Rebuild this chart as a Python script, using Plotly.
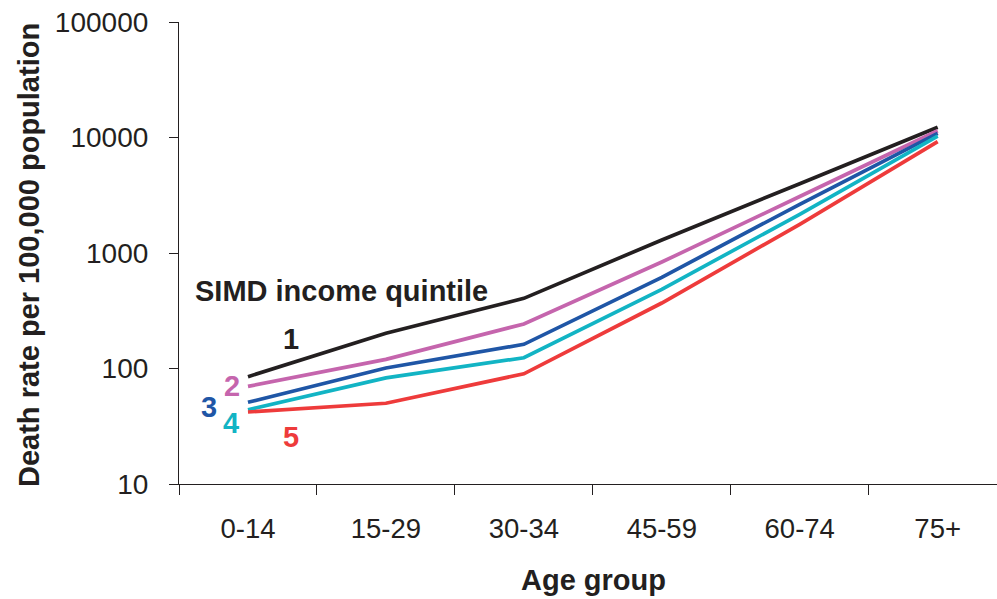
import plotly.graph_objects as go

age_groups = ["0-14", "15-29", "30-34", "45-59", "60-74", "75+"]
q1 = [85, 202, 405, 1297, 3980, 12250]
q2 = [70, 120, 243, 835, 3085, 11450]
q3 = [51, 101, 162, 616, 2640, 10870]
q4 = [44, 83, 124, 485, 2163, 10300]
q5 = [42, 50, 90, 369, 1772, 9200]
series = [("1", q1, "#231f20"), ("2", q2, "#c565ad"), ("3", q3, "#1f56a6"),
          ("4", q4, "#12b4c4"), ("5", q5, "#ee3b3b")]
ytick_vals = [10, 100, 1000, 10000, 100000]
ytick_text = ["10", "100", "1000", "10000", "100000"]

W, H = 997, 599
L, R, T, B = 179, 0, 22, 115

fig = go.Figure()
for name, vals, col in series:
    fig.add_trace(go.Scatter(x=age_groups, y=vals, mode="lines", name=name,
                             line=dict(color=col, width=3.7), showlegend=False))

font = "Liberation Sans, Arial, Helvetica, sans-serif"
axcol = "#231f20"

fig.update_layout(
    width=W, height=H,
    margin=dict(l=L, r=R, t=T, b=B),
    paper_bgcolor="white", plot_bgcolor="white",
    font=dict(family=font, color=axcol, size=28),
    xaxis=dict(type="category", range=[-0.5, 5.43], showgrid=False, zeroline=False,
               showline=True, linecolor=axcol, linewidth=1.2,
               ticks="outside", ticklen=10, tickcolor=axcol, tickwidth=1.2,
               tickson="boundaries", ticklabelstandoff=20,
               tickfont=dict(size=27.5, color=axcol, family=font)),
    yaxis=dict(type="log", range=[1, 5], showgrid=False, zeroline=False,
               showline=True, linecolor=axcol, linewidth=1.2,
               ticks="outside", ticklen=9, tickcolor=axcol, tickwidth=1.2,
               tickvals=ytick_vals, ticktext=ytick_text, ticklabelstandoff=15,
               tickfont=dict(size=28, color=axcol, family=font)),
)

pw = W - L - R
ph = H - T - B

def px(xp):
    return (xp - L) / pw

def py(yp):
    return 1 - (yp - T) / ph

anns = [
    dict(text="<b>Death rate per 100,000 population</b>", x=px(29), y=py(255), textangle=-90,
         font=dict(size=29)),
    dict(text="<b>Age group</b>", x=px(593), y=py(580), font=dict(size=29)),
    dict(text="<b>SIMD income quintile</b>", x=px(341), y=py(291), font=dict(size=29)),
    dict(text="<b>1</b>", x=px(291), y=py(339), font=dict(size=29, color="#231f20")),
    dict(text="<b>2</b>", x=px(232), y=py(386), font=dict(size=29, color="#c565ad")),
    dict(text="<b>3</b>", x=px(209), y=py(407), font=dict(size=29, color="#1f56a6")),
    dict(text="<b>4</b>", x=px(231), y=py(423), font=dict(size=29, color="#12b4c4")),
    dict(text="<b>5</b>", x=px(291), y=py(437), font=dict(size=29, color="#ee3b3b")),
]
for a in anns:
    a.update(xref="paper", yref="paper", showarrow=False, xanchor="center", yanchor="middle")
    fig.add_annotation(**a)

fig.write_html("out.html")
